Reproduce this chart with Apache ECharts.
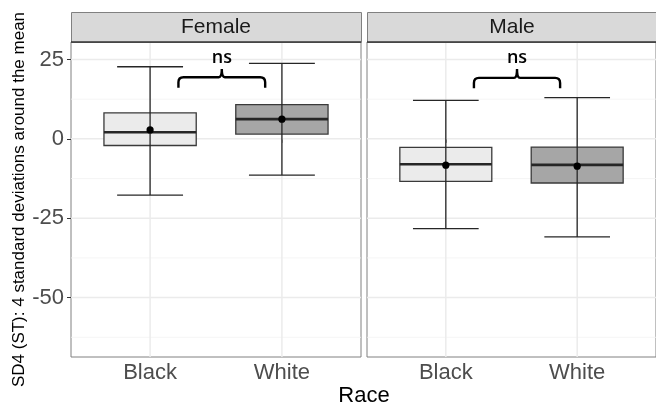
<!DOCTYPE html>
<html><head><meta charset="utf-8">
<script src="https://cdn.jsdelivr.net/npm/echarts@6/dist/echarts.min.js"></script>
<style>html,body{margin:0;padding:0;background:#fff}#c{width:656px;height:405px}</style>
</head><body><div id="c"></div>
<script>
// ---- data ----
const races = ['Black', 'White'];
const sexes = ['Female', 'Male'];
const yMajorTicks = [-50, -25, 0, 25];
const yMinorTicks = [-62.5, -37.5, -12.5, 12.5];
const yRange = [-68.7, 30.5];
const xRange = [0.4, 2.6];

const femaleLow = [-17.7, -11.4];
const femaleQ1 = [-2.1, 1.5];
const femaleMedian = [2.1, 6.2];
const femaleQ3 = [8.2, 10.8];
const femaleHigh = [22.7, 23.8];
const femaleMean = [2.8, 6.2];

const maleLow = [-28.3, -30.9];
const maleQ1 = [-13.4, -13.9];
const maleMedian = [-8.0, -8.2];
const maleQ3 = [-2.7, -2.6];
const maleHigh = [12.1, 13.0];
const maleMean = [-8.3, -8.6];

// bracket: [x1, x2, yBar, yEnd, yTip, yLabel]
const femaleBracket = [1.215, 1.873, 19.4, 16.1, 22.0, 25.6];
const maleBracket = [1.214, 1.870, 19.2, 15.9, 22.0, 25.6];
const bracketLabel = 'ns';

// ---- layout ----
const panels = [{ left: 71, width: 290 }, { left: 367, width: 290 }];
const TOP = 42, HEIGHT = 315;
const FONT = 'Liberation Sans, Arial, sans-serif';
const boxFills = ['#ebebeb', '#a6a6a6'];

function boxData(low, q1, med, q3, high, mean) {
  return races.map((r, i) => [i + 1, low[i], q1[i], med[i], q3[i], high[i], mean[i], i]);
}

function renderBox(params, api) {
  const x = api.value(0);
  const lo = api.coord([x, api.value(1)]);
  const q1 = api.coord([x, api.value(2)]);
  const md = api.coord([x, api.value(3)]);
  const q3 = api.coord([x, api.value(4)]);
  const hi = api.coord([x, api.value(5)]);
  const mn = api.coord([x, api.value(6)]);
  const hb = api.size([0.35, 0])[0];
  const hc = api.size([0.25, 0])[0];
  const cx = lo[0];
  const ink = '#262626';
  return {
    type: 'group', children: [
      { type: 'rect', shape: { x: cx - hb, y: q3[1], width: 2 * hb, height: q1[1] - q3[1] },
        style: { fill: boxFills[api.value(7)], stroke: '#3a3a3a', lineWidth: 1.3 } },
      { type: 'line', shape: { x1: cx - hb, y1: md[1], x2: cx + hb, y2: md[1] }, style: { stroke: ink, lineWidth: 2.6 } },
      { type: 'line', shape: { x1: cx, y1: hi[1], x2: cx, y2: lo[1] }, style: { stroke: ink, lineWidth: 1.3 } },
      { type: 'line', shape: { x1: cx - hc, y1: hi[1], x2: cx + hc, y2: hi[1] }, style: { stroke: ink, lineWidth: 1.3 } },
      { type: 'line', shape: { x1: cx - hc, y1: lo[1], x2: cx + hc, y2: lo[1] }, style: { stroke: ink, lineWidth: 1.3 } },
      { type: 'circle', shape: { cx: mn[0], cy: mn[1], r: 3.6 }, style: { fill: '#000' } }
    ]
  };
}

function renderBracket(params, api) {
  const x1 = api.value(0), x2 = api.value(1), yb = api.value(2), ye = api.value(3), yt = api.value(4), yl = api.value(5);
  const xm = (x1 + x2) / 2;
  const A = api.coord([x1, ye]), B = api.coord([x1, yb]), M = api.coord([xm, yb]), T = api.coord([xm, yt]);
  const C = api.coord([x2, yb]), D = api.coord([x2, ye]), L = api.coord([xm, yl]);
  const r = 5, rt = 3;
  const p = [
    'M', A[0], A[1],
    'L', B[0], B[1] + r,
    'Q', B[0], B[1], B[0] + r, B[1],
    'L', M[0] - rt, M[1],
    'Q', M[0], M[1], M[0], T[1],
    'Q', M[0], M[1], M[0] + rt, M[1],
    'L', C[0] - r, C[1],
    'Q', C[0], C[1], C[0], C[1] + r,
    'L', D[0], D[1]
  ].join(' ');
  return {
    type: 'group', children: [
      { type: 'path', shape: { pathData: p }, style: { stroke: '#000', lineWidth: 2.4, fill: null } },
      { type: 'text', style: { text: bracketLabel, x: L[0], y: L[1], align: 'center', verticalAlign: 'middle',
        font: '600 18px "Open Sans", sans-serif', fill: '#000' } }
    ]
  };
}

function renderHLine(width, color) {
  return function (params, api) {
    const cs = params.coordSys;
    const p = api.coord([xRange[0], api.value(0)]);
    return { type: 'line', shape: { x1: cs.x, y1: p[1], x2: cs.x + cs.width, y2: p[1] }, style: { stroke: color, lineWidth: width } };
  };
}
function renderVLine(params, api) {
  const cs = params.coordSys;
  const p = api.coord([api.value(0), yRange[0]]);
  return { type: 'line', shape: { x1: p[0], y1: cs.y, x2: p[0], y2: cs.y + cs.height }, style: { stroke: '#ebebeb', lineWidth: 1.5 } };
}

const grids = panels.map(p => ({ left: p.left, top: TOP, width: p.width, height: HEIGHT, show: true,
  borderColor: '#808080', borderWidth: 1, backgroundColor: 'transparent' }));

const xAxes = panels.map((p, i) => ({
  type: 'value', gridIndex: i, min: xRange[0], max: xRange[1],
  splitLine: { show: false }, axisLine: { show: false },
  axisTick: { show: true, length: 4, lineStyle: { color: '#333' }, customValues: [1, 2] },
  axisLabel: { customValues: [1, 2], formatter: v => races[Math.round(v) - 1], fontFamily: FONT, fontSize: 22, color: '#4d4d4d', margin: 5 }
}));

const yAxes = panels.map((p, i) => ({
  type: 'value', gridIndex: i, min: yRange[0], max: yRange[1],
  splitLine: { show: false }, axisLine: { show: false },
  axisTick: { show: i === 0, length: 4, lineStyle: { color: '#333' }, customValues: yMajorTicks },
  axisLabel: { show: i === 0, customValues: yMajorTicks, fontFamily: FONT, fontSize: 22, color: '#4d4d4d', margin: 7 },
  name: i === 0 ? 'SD4 (ST): 4 standard deviations around the mean' : '',
  nameLocation: 'middle', nameGap: 42,
  nameTextStyle: { fontFamily: FONT, fontSize: 17, color: '#000' }
}));

const series = [];
panels.forEach((p, i) => {
  series.push({ type: 'custom', xAxisIndex: i, yAxisIndex: i, z: 1, silent: true, renderItem: renderHLine(0.8, '#f3f3f3'), data: yMinorTicks.map(v => [v]) });
  series.push({ type: 'custom', xAxisIndex: i, yAxisIndex: i, z: 2, silent: true, renderItem: renderHLine(1.5, '#ebebeb'), data: yMajorTicks.map(v => [v]) });
  series.push({ type: 'custom', xAxisIndex: i, yAxisIndex: i, z: 2, silent: true, renderItem: renderVLine, data: races.map((r, k) => [k + 1]) });
});
series.push({ type: 'custom', xAxisIndex: 0, yAxisIndex: 0, z: 5, renderItem: renderBox,
  encode: { x: 0, y: [1, 2, 3, 4, 5] },
  data: boxData(femaleLow, femaleQ1, femaleMedian, femaleQ3, femaleHigh, femaleMean) });
series.push({ type: 'custom', xAxisIndex: 1, yAxisIndex: 1, z: 5, renderItem: renderBox,
  encode: { x: 0, y: [1, 2, 3, 4, 5] },
  data: boxData(maleLow, maleQ1, maleMedian, maleQ3, maleHigh, maleMean) });
series.push({ type: 'custom', xAxisIndex: 0, yAxisIndex: 0, z: 6, renderItem: renderBracket, encode: { x: [0, 1], y: [2] }, data: [femaleBracket] });
series.push({ type: 'custom', xAxisIndex: 1, yAxisIndex: 1, z: 6, renderItem: renderBracket, encode: { x: [0, 1], y: [2] }, data: [maleBracket] });

const graphic = [];
panels.forEach((p, i) => {
  graphic.push({ type: 'rect', left: p.left, top: 12, shape: { width: p.width, height: 30 }, style: { fill: '#d9d9d9', stroke: '#808080', lineWidth: 1 }, z: 10 });
  graphic.push({ type: 'line', shape: { x1: p.left, y1: 42, x2: p.left + p.width, y2: 42 }, style: { stroke: '#333', lineWidth: 1.6 }, z: 11 });
  graphic.push({ type: 'text', x: p.left + p.width / 2, y: 27.5, style: { text: sexes[i], align: 'center', verticalAlign: 'middle', font: '21px ' + FONT, fill: '#1a1a1a' }, z: 12 });
});
graphic.push({ type: 'text', x: 364, y: 396, style: { text: 'Race', align: 'center', verticalAlign: 'middle', font: '22px ' + FONT, fill: '#000' }, z: 12 });

const chart = echarts.init(document.getElementById('c'));
chart.setOption({ animation: false, backgroundColor: '#fff', grid: grids, xAxis: xAxes, yAxis: yAxes, series, graphic });
</script></body></html>
